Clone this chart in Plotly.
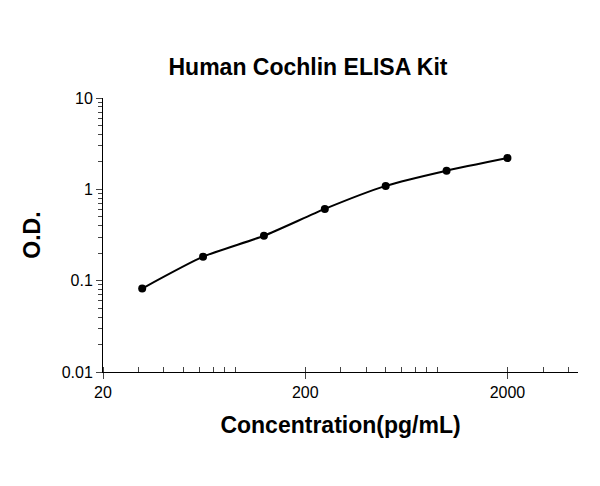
import plotly.graph_objects as go

# standard curve points
conc = [31.25, 62.5, 125, 250, 500, 1000, 2000]
od = [0.082, 0.183, 0.31, 0.61, 1.09, 1.6, 2.2]

x_ticks = [20, 200, 2000]
y_ticks = [0.01, 0.1, 1, 10]
x_minor = [m * 10 ** e for e in (1, 2, 3) for m in range(2, 10)]
y_minor = [m * 10.0 ** e for e in (-2, -1, 0) for m in range(2, 10)]

fig = go.Figure()
fig.add_trace(go.Scatter(x=conc, y=od, mode="lines+markers",
                         line=dict(color="black", width=2, shape="spline", smoothing=0.6),
                         marker=dict(color="black", size=8)))

fig.update_layout(
    width=600, height=486,
    margin=dict(l=95, r=30, t=90, b=122),
    paper_bgcolor="white", plot_bgcolor="white",
    showlegend=False,
    font=dict(family="Liberation Sans, Arial", color="black"),
    title=dict(text="<b>Human Cochlin ELISA Kit</b>", x=0.5, y=0.895,
               xanchor="center", font=dict(size=23)),
)
fig.update_xaxes(type="log", range=[1.301, 3.65], showgrid=False,
                 showline=True, linecolor="black", linewidth=1,
                 ticks="outside", ticklen=6, tickvals=x_ticks,
                 ticktext=[str(v) for v in x_ticks],
                 minor=dict(ticks="inside", ticklen=5, tickvals=x_minor, showgrid=False),
                 tickfont=dict(size=16),
                 title=dict(text="<b>Concentration(pg/mL)</b>", font=dict(size=23), standoff=16))
fig.update_yaxes(type="log", range=[-2, 1], showgrid=False,
                 showline=True, linecolor="black", linewidth=1,
                 ticks="outside", ticklen=6, tickvals=y_ticks,
                 ticktext=["0.01", "0.1", "1", "10"],
                 minor=dict(ticks="outside", ticklen=4, tickvals=y_minor, showgrid=False),
                 tickfont=dict(size=16),
                 title=dict(text="<b>O.D.</b>", font=dict(size=23), standoff=14))
fig.write_html("out.html")
